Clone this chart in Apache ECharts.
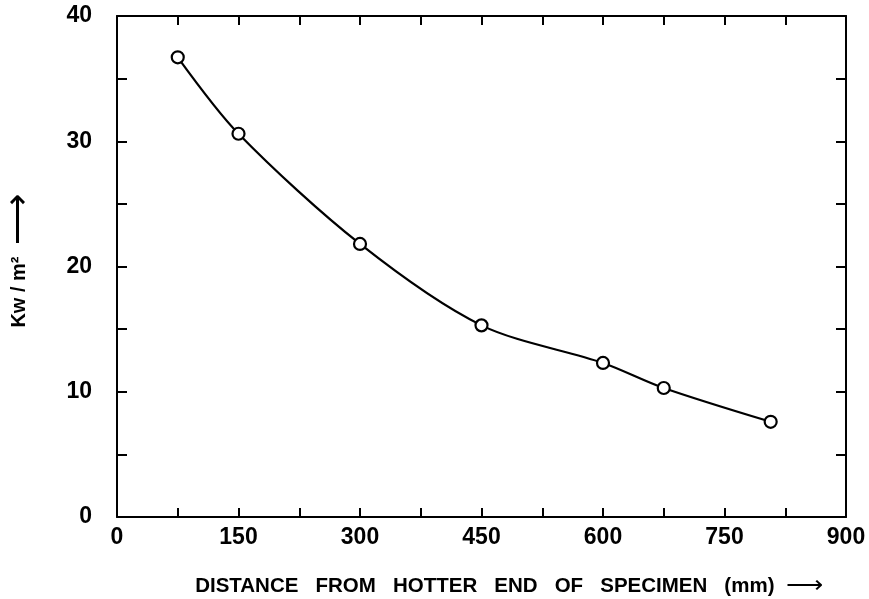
<!DOCTYPE html>
<html>
<head>
<meta charset="utf-8">
<script src="https://cdn.jsdelivr.net/npm/echarts@6/dist/echarts.min.js"></script>
<style>
  html, body { margin: 0; padding: 0; background: #fff; }
  #chart { width: 869px; height: 599px; }
</style>
</head>
<body>
<div id="chart"></div>
<script>
// distance from hotter end (mm) and heat flux (Kw/m2)
var distance = [75, 150, 300, 450, 600, 675, 807];
var flux = [36.7, 30.6, 21.8, 15.3, 12.3, 10.3, 7.6];
var xTicks = [0, 150, 300, 450, 600, 750, 900];
var yTicks = [0, 10, 20, 30, 40];

var points = [];
for (var i = 0; i < distance.length; i++) {
  points.push([distance[i], flux[i]]);
}

var chart = echarts.init(document.getElementById('chart'), null, { renderer: 'canvas' });

var labelFont = {
  fontFamily: 'Liberation Sans, Arial, sans-serif',
  fontWeight: 'bold',
  fontSize: 23,
  color: '#000'
};

var tickStyle = { color: '#000', width: 2 };

// same scale on all four sides, ticks pointing in
function xAxisDef(pos, withLabels) {
  return {
    type: 'value',
    position: pos,
    min: xTicks[0],
    max: xTicks[xTicks.length - 1],
    interval: 150,
    axisLine: { show: true, onZero: false, lineStyle: { color: '#000', width: 2 } },
    axisTick: { show: true, inside: true, length: 9, lineStyle: tickStyle },
    minorTick: { show: true, splitNumber: 2, length: 9, lineStyle: tickStyle },
    splitLine: { show: false },
    axisLabel: withLabels ? Object.assign({ margin: 9 }, labelFont) : { show: false }
  };
}
function yAxisDef(pos, withLabels) {
  return {
    type: 'value',
    position: pos,
    min: yTicks[0],
    max: yTicks[yTicks.length - 1],
    interval: 10,
    axisLine: { show: true, onZero: false, lineStyle: { color: '#000', width: 2 } },
    axisTick: { show: true, inside: true, length: 10, lineStyle: tickStyle },
    minorTick: { show: true, splitNumber: 2, length: 10, lineStyle: tickStyle },
    splitLine: { show: false },
    axisLabel: withLabels ? Object.assign({ margin: 25 }, labelFont) : { show: false }
  };
}

var xBottom = xAxisDef('bottom', true);
xBottom.name = 'DISTANCE   FROM   HOTTER   END   OF   SPECIMEN   (mm)  {a|⟶}';
xBottom.nameLocation = 'middle';
xBottom.nameGap = 56;
xBottom.nameTextStyle = {
  fontFamily: 'Liberation Sans, Arial, sans-serif',
  fontWeight: 'bold',
  fontSize: 20.5,
  color: '#000',
  padding: [0, 0, 0, 55],
  rich: { a: { fontSize: 26, fontWeight: 'normal', color: '#000' } }
};

var yLeft = yAxisDef('left', true);
yLeft.name = 'Kw / m²  {a|⟶}';
yLeft.nameLocation = 'middle';
yLeft.nameGap = 80;
yLeft.nameRotate = 90;
yLeft.nameTextStyle = {
  fontFamily: 'Liberation Sans, Arial, sans-serif',
  fontWeight: 'bold',
  fontSize: 20,
  color: '#000',
  padding: [0, 0, 0, 12],
  rich: { a: { fontSize: 36, fontWeight: 'normal', color: '#000' } }
};

var option = {
  backgroundColor: '#fff',
  animation: false,
  grid: { left: 117, right: 23, top: 16, bottom: 82, outerBoundsMode: 'none' },
  xAxis: [xBottom, xAxisDef('top', false)],
  yAxis: [yLeft, yAxisDef('right', false)],
  series: [{
    type: 'line',
    data: points,
    smooth: 0.3,
    symbol: 'circle',
    symbolSize: 12,
    showAllSymbol: true,
    lineStyle: { color: '#000', width: 2.2 },
    itemStyle: { color: '#fff', borderColor: '#000', borderWidth: 2.2 }
  }]
};

chart.setOption(option);
</script>
</body>
</html>
